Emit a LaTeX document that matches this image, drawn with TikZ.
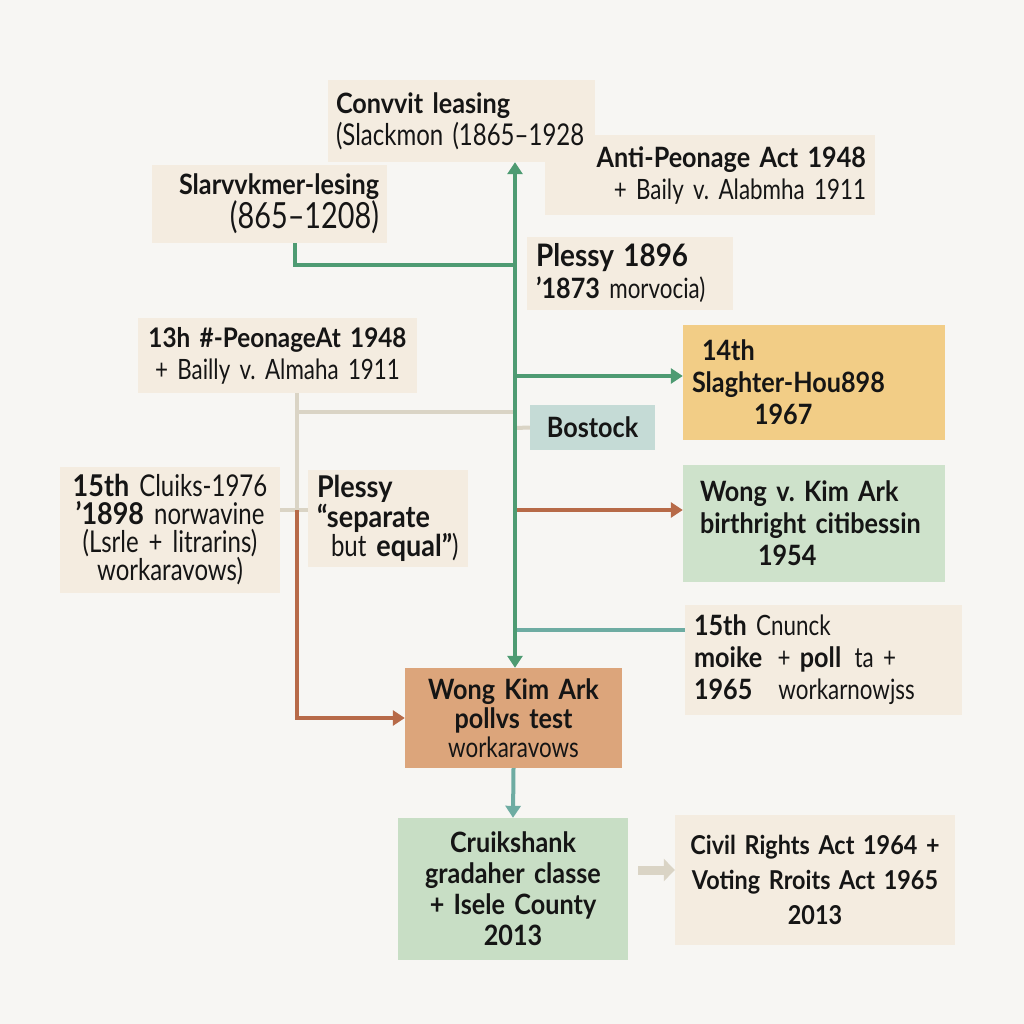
\documentclass[tikz,border=0pt]{standalone}
\usepackage{fontspec}
\setmainfont{Lato}[FakeStretch=0.8, BoldFeatures={FakeStretch=0.9}]
\usetikzlibrary{arrows.meta}
\definecolor{bg}{HTML}{F7F6F3}
\definecolor{ink}{HTML}{151515}
\definecolor{cream}{HTML}{F4ECE0}
\definecolor{gold}{HTML}{F2CD86}
\definecolor{sage}{HTML}{CEE2CB}
\definecolor{sage2}{HTML}{C8DEC5}
\definecolor{tan}{HTML}{DCA57B}
\definecolor{mist}{HTML}{C5DBD6}
\definecolor{green}{HTML}{4E9B72}
\definecolor{teal}{HTML}{6EACA2}
\definecolor{rust}{HTML}{B76A48}
\definecolor{sand}{HTML}{DAD4C5}
\frenchspacing
\begin{document}
\begin{tikzpicture}[x=1pt,y=-1pt,
  box/.style={rectangle, inner xsep=9pt, inner ysep=0pt, fill=cream, text=ink,
    font=\fontsize{28}{32}\selectfont},
  conn/.style={line width=4pt},
  tip/.style={-{Triangle[length=12pt,width=15pt]}},
  tips/.style={{Triangle[length=12pt,width=15pt]}-{Triangle[length=12pt,width=15pt]}}]
\fill[bg] (0,0) rectangle (1024,1024);
\useasboundingbox (0,0) rectangle (1024,1024);

% boxes
\node[box, text width=312pt, minimum height=80pt, align=right] (anti) at (710,175)
  {\textbf{Anti-Peonage Act 1948}\\+ Baily v. Alabmha 1911};
\node[box, text width=251pt, minimum height=82pt, align=left, inner xsep=8pt] (convict) at (461.5,121)
  {\textbf{Convvit leasing}\\{\fontsize{30}{32}\selectfont(Slackmon (1865–1928}};
\node[box, text width=219pt, minimum height=78pt, align=right, inner xsep=8pt] (slav) at (269.5,204)
  {\textbf{Slarvvkmer-lesing}\\{\fontsize{36}{32}\selectfont(865–1208)}};
\node[box, text width=188pt, minimum height=73pt, align=left] (plessya) at (630,273.5)
  {{\fontsize{31}{32}\selectfont\textbf{Plessy 1896}}\\\textbf{'1873} morvocia)};
\node[box, text width=271pt, minimum height=75pt, align=center, inner xsep=4pt] (thirteen) at (277.5,355.5)
  {\mbox{\fontsize{27}{32}\selectfont\textbf{13h \#-PeonageAt 1948}}\\+ Bailly v. Almaha 1911};
\node[box, fill=gold, text width=244pt, minimum height=115pt, align=left] (fourteen) at (814,382.5)
  {\hspace*{10pt}\textbf{14th}\\\textbf{Slaghter-Hou898}\\\hspace*{62pt}\textbf{1967}};
\node[box, fill=mist, text width=107pt, minimum height=45pt, align=center] (bostock) at (592.5,427.5)
  {\textbf{Bostock}};
\node[box, text width=206pt, minimum height=126pt, align=center, inner xsep=7pt,
  font=\fontsize{30}{28}\selectfont] (fifteena) at (170,530)
  {\textbf{15th} Cluiks-1976\\\textbf{'1898} norwavine\\(Lsrle + litrarins)\\workaravows)};
\node[box, text width=142pt, minimum height=97pt, align=left,
  font=\fontsize{30}{28}\selectfont] (plessyb) at (388,518.5)
  {\textbf{Plessy}\\\textbf{“separate}\\\hspace*{14pt}but \textbf{equal”})};
\node[box, fill=sage, text width=244pt, minimum height=117pt, align=left] (wongv) at (814,523.5)
  {\hspace*{8pt}\textbf{Wong v. Kim Ark}\\\hspace*{8pt}\textbf{birthright citibessin}\\\hspace*{66pt}\textbf{1954}};
\node[box, text width=259pt, minimum height=110pt, align=left] (fifteenb) at (823.5,660)
  {\textbf{15th} Cnunck\\\textbf{moike} \hspace{6pt}+ \textbf{poll} \hspace{4pt}ta +\\\textbf{1965}\hspace{26pt}workarnowjss};
\node[box, fill=tan, text width=199pt, minimum height=100pt, align=center,
  font=\fontsize{28}{29}\selectfont] (wongkim) at (513.5,718)
  {\textbf{Wong Kim Ark}\\\textbf{pollvs test}\\workaravows};
\node[box, fill=sage2, text width=212pt, minimum height=142pt, align=center,
  font=\fontsize{28}{31}\selectfont] (cruik) at (513,889)
  {\textbf{Cruikshank}\\\textbf{gradaher classe}\\\textbf{+ Isele County}\\\textbf{2013}};
\node[box, text width=262pt, minimum height=130pt, align=center,
  font=\fontsize{26}{35}\selectfont] (civil) at (815,880)
  {\textbf{Civil Rights Act 1964 +}\\\textbf{Voting Rroits Act 1965}\\\textbf{2013}};

% junction coordinates
\coordinate (tr) at (515,0);
\coordinate (j1) at (515,265);
\coordinate (j2) at (515,376);
\coordinate (j3) at (297,412);
\coordinate (j4) at (515,412);
\coordinate (j5) at (297,510);
\coordinate (j6) at (515,510);
\coordinate (j7) at (515,428);
\coordinate (j8) at (515,630);

% connectors
\draw[conn, sand] ([xshift=19.5pt]thirteen.south) -- (j5);
\draw[conn, sand] (j3) -- (j4);
\draw[conn, sand] (fifteena.east |- j5) -- (plessyb.west |- j5);
\draw[conn, sand] (j7) -- (bostock.west);
\draw[conn, rust, tip] (j5) |- (wongkim.west);
\draw[conn, green] ([xshift=25.5pt]slav.south) |- (j1);
\draw[conn, green, tip] (j2) -- (j2 -| fourteen.west);
\draw[conn, rust, tip] (j6) -- (j6 -| wongv.west);
\draw[conn, teal] (fifteenb.west |- j8) -- (j8);
\draw[conn, green, tips] (wongkim.north -| tr) -- (convict.south -| tr);
\draw[conn, teal, tip] (wongkim.south) -- (cruik.north);
\draw[line width=9pt, sand, -{Triangle[length=11pt,width=22pt]}] (cruik.east) ++(10,-19) coordinate (fa) -- (fa -| civil.west);
\end{tikzpicture}
\end{document}
